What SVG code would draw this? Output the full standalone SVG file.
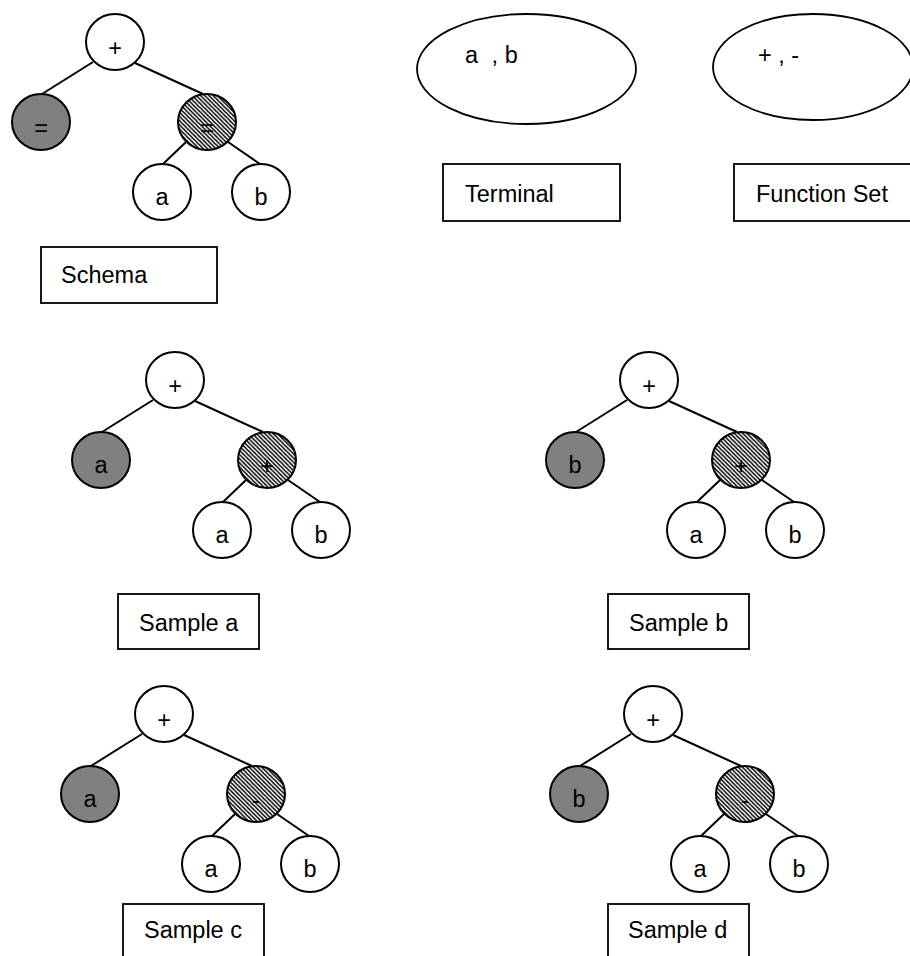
<svg xmlns="http://www.w3.org/2000/svg" width="910" height="956" viewBox="0 0 910 956">
  <defs>
    <!-- diagonal hatching for the operator node -->
    <pattern id="hatch" patternUnits="userSpaceOnUse" width="4.2" height="4.2">
      <path d="M-1,-1 L5.2,5.2 M-1,3.2 L1,5.2 M3.2,-1 L5.2,1" stroke="#000" stroke-width="1.4"/>
    </pattern>
    <style>
      .node { stroke: #000; stroke-width: 2; }
      .plain { fill: #fff; }
      .grey { fill: #808080; }
      .hatched { fill: url(#hatch); }
      .edge { stroke: #000; stroke-width: 2; fill: none; }
      .box { fill: #fff; stroke: #000; stroke-width: 1.8; }
      .set { fill: #fff; stroke: #000; stroke-width: 1.8; }
      text { font-family: "Liberation Sans", Arial, sans-serif; font-size: 23.5px; fill: #000; }
      .lbl { text-anchor: middle; }
    </style>
  </defs>
  <rect width="910" height="956" fill="#fff"/>

  <!-- Schema tree -->
  <g id="schema-tree">
    <g id="schema-edges">
      <path class="edge" d="M93,62 L42,94 M135,63 L203,94 M186,142 L163,164 M228,142 L260,164"/>
    </g>
    <g id="schema-root"><ellipse class="node plain" cx="115" cy="42" rx="29" ry="28"/><text class="lbl" x="115" y="56">+</text></g>
    <g id="schema-left"><ellipse class="node grey" cx="41" cy="122" rx="29" ry="28"/><text class="lbl" x="41" y="136">=</text></g>
    <g id="schema-op"><ellipse class="node hatched" cx="207" cy="122" rx="29" ry="28"/><text class="lbl" x="207" y="136">=</text></g>
    <g id="schema-a"><ellipse class="node plain" cx="162" cy="192" rx="29" ry="28"/><text class="lbl" x="162" y="205">a</text></g>
    <g id="schema-b"><ellipse class="node plain" cx="261" cy="192" rx="29" ry="28"/><text class="lbl" x="261" y="205">b</text></g>
  </g>
  <g id="schema-label"><rect class="box" x="41" y="247" width="176" height="56"/><text x="61" y="283">Schema</text></g>

  <!-- Terminal and function sets -->
  <g id="terminal-set"><ellipse class="set" cx="526.5" cy="69" rx="109.5" ry="55"/><text x="465" y="63">a<tspan dx="7"> , b</tspan></text></g>
  <g id="terminal-label"><rect class="box" x="443" y="164" width="177" height="57"/><text x="465" y="202">Terminal</text></g>
  <g id="function-set"><ellipse class="set" cx="813" cy="67" rx="100" ry="53"/><text x="758" y="63">+ , -</text></g>
  <g id="function-label"><rect class="box" x="734" y="164" width="200" height="57"/><text x="756" y="202">Function Set</text></g>

  <!-- Sample a -->
  <g id="sample-a-tree" transform="translate(60,338)">
    <g id="sample-a-edges">
      <path class="edge" d="M93,62 L42,94 M135,63 L203,94 M186,142 L163,164 M228,142 L260,164"/>
    </g>
    <g id="sample-a-root"><ellipse class="node plain" cx="115" cy="42" rx="29" ry="28"/><text class="lbl" x="115" y="56">+</text></g>
    <g id="sample-a-left"><ellipse class="node grey" cx="41" cy="122" rx="29" ry="28"/><text class="lbl" x="41" y="135">a</text></g>
    <g id="sample-a-op"><ellipse class="node hatched" cx="207" cy="122" rx="29" ry="28"/><text class="lbl" x="207" y="136">+</text></g>
    <g id="sample-a-a"><ellipse class="node plain" cx="162" cy="192" rx="29" ry="28"/><text class="lbl" x="162" y="205">a</text></g>
    <g id="sample-a-b"><ellipse class="node plain" cx="261" cy="192" rx="29" ry="28"/><text class="lbl" x="261" y="205">b</text></g>
  </g>
  <g id="sample-a-label"><rect class="box" x="118" y="594" width="141" height="55"/><text x="139" y="631">Sample a</text></g>

  <!-- Sample b -->
  <g id="sample-b-tree" transform="translate(534,338)">
    <g id="sample-b-edges">
      <path class="edge" d="M93,62 L42,94 M135,63 L203,94 M186,142 L163,164 M228,142 L260,164"/>
    </g>
    <g id="sample-b-root"><ellipse class="node plain" cx="115" cy="42" rx="29" ry="28"/><text class="lbl" x="115" y="56">+</text></g>
    <g id="sample-b-left"><ellipse class="node grey" cx="41" cy="122" rx="29" ry="28"/><text class="lbl" x="41" y="135">b</text></g>
    <g id="sample-b-op"><ellipse class="node hatched" cx="207" cy="122" rx="29" ry="28"/><text class="lbl" x="207" y="136">+</text></g>
    <g id="sample-b-a"><ellipse class="node plain" cx="162" cy="192" rx="29" ry="28"/><text class="lbl" x="162" y="205">a</text></g>
    <g id="sample-b-b"><ellipse class="node plain" cx="261" cy="192" rx="29" ry="28"/><text class="lbl" x="261" y="205">b</text></g>
  </g>
  <g id="sample-b-label"><rect class="box" x="608" y="594" width="141" height="55"/><text x="629" y="631">Sample b</text></g>

  <!-- Sample c -->
  <g id="sample-c-tree" transform="translate(49,672)">
    <g id="sample-c-edges">
      <path class="edge" d="M93,62 L42,94 M135,63 L203,94 M186,142 L163,164 M228,142 L260,164"/>
    </g>
    <g id="sample-c-root"><ellipse class="node plain" cx="115" cy="42" rx="29" ry="28"/><text class="lbl" x="115" y="56">+</text></g>
    <g id="sample-c-left"><ellipse class="node grey" cx="41" cy="122" rx="29" ry="28"/><text class="lbl" x="41" y="135">a</text></g>
    <g id="sample-c-op"><ellipse class="node hatched" cx="207" cy="122" rx="29" ry="28"/><text class="lbl" x="207" y="136">-</text></g>
    <g id="sample-c-a"><ellipse class="node plain" cx="162" cy="192" rx="29" ry="28"/><text class="lbl" x="162" y="205">a</text></g>
    <g id="sample-c-b"><ellipse class="node plain" cx="261" cy="192" rx="29" ry="28"/><text class="lbl" x="261" y="205">b</text></g>
  </g>
  <g id="sample-c-label"><rect class="box" x="123" y="904" width="141" height="80"/><text x="144" y="938">Sample c</text></g>

  <!-- Sample d -->
  <g id="sample-d-tree" transform="translate(538,672)">
    <g id="sample-d-edges">
      <path class="edge" d="M93,62 L42,94 M135,63 L203,94 M186,142 L163,164 M228,142 L260,164"/>
    </g>
    <g id="sample-d-root"><ellipse class="node plain" cx="115" cy="42" rx="29" ry="28"/><text class="lbl" x="115" y="56">+</text></g>
    <g id="sample-d-left"><ellipse class="node grey" cx="41" cy="122" rx="29" ry="28"/><text class="lbl" x="41" y="135">b</text></g>
    <g id="sample-d-op"><ellipse class="node hatched" cx="207" cy="122" rx="29" ry="28"/><text class="lbl" x="207" y="136">-</text></g>
    <g id="sample-d-a"><ellipse class="node plain" cx="162" cy="192" rx="29" ry="28"/><text class="lbl" x="162" y="205">a</text></g>
    <g id="sample-d-b"><ellipse class="node plain" cx="261" cy="192" rx="29" ry="28"/><text class="lbl" x="261" y="205">b</text></g>
  </g>
  <g id="sample-d-label"><rect class="box" x="608" y="904" width="141" height="80"/><text x="628" y="938">Sample d</text></g>
</svg>
